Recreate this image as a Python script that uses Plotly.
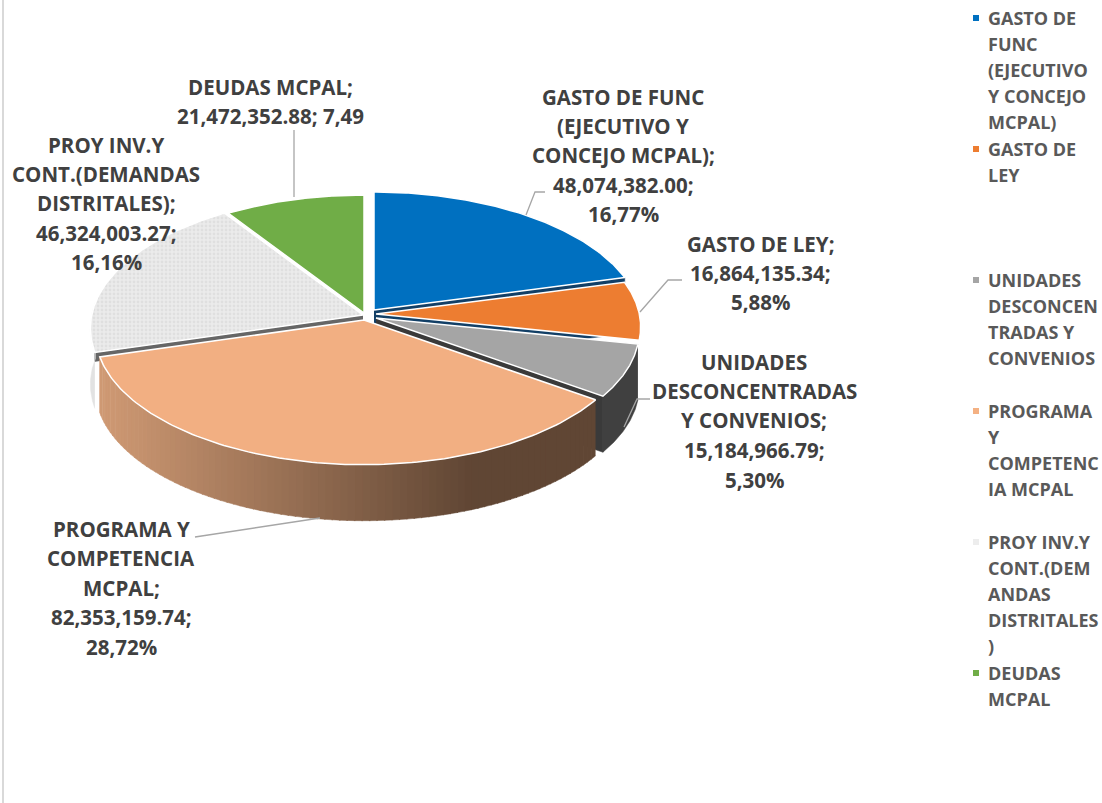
import numpy as np
import plotly.graph_objects as go

# ---------- data ----------
categories = ["GASTO DE FUNC (EJECUTIVO Y CONCEJO MCPAL)", "GASTO DE LEY",
              "UNIDADES DESCONCENTRADAS Y CONVENIOS", "PROGRAMA Y COMPETENCIA MCPAL",
              "PROY INV.Y CONT.(DEMANDAS DISTRITALES)", "DEUDAS MCPAL"]
values = [48074382.00, 16864135.34, 15184966.79, 82353159.74, 46324003.27, 21472352.88]

label_lines = [
    ["GASTO DE FUNC", "(EJECUTIVO Y", "CONCEJO MCPAL);", "48,074,382.00;", "16,77%"],
    ["GASTO DE LEY;", "16,864,135.34;", "5,88%"],
    ["UNIDADES", "DESCONCENTRADAS", "Y CONVENIOS;", "15,184,966.79;", "5,30%"],
    ["PROGRAMA Y", "COMPETENCIA", "MCPAL;", "82,353,159.74;", "28,72%"],
    ["PROY INV.Y", "CONT.(DEMANDAS", "DISTRITALES);", "46,324,003.27;", "16,16%"],
    ["DEUDAS MCPAL;", "21,472,352.88; 7,49"],
]
legend_lines = [
    ["GASTO DE", "FUNC", "(EJECUTIVO", "Y CONCEJO", "MCPAL)"],
    ["GASTO DE", "LEY"],
    ["UNIDADES", "DESCONCEN", "TRADAS Y", "CONVENIOS"],
    ["PROGRAMA", "Y", "COMPETENC", "IA MCPAL"],
    ["PROY INV.Y", "CONT.(DEM", "ANDAS", "DISTRITALES", ")"],
    ["DEUDAS", "MCPAL"],
]

# ---------- styles / layout ----------
top_colors = ["#0070C0", "#ED7D31", "#A5A5A5", "#F2AF82", "#E9E9E9", "#70AD47"]
legend_colors = ["#0070C0", "#ED7D31", "#A5A5A5", "#F4B183", "#EDEDED", "#70AD47"]
side_colors = ["#123F66", None, "#3A3A3A", None, "#666666", None]
side_at_end = [True, True, True, True, False, True]
side_depth = [56, 0, 56, 0, 9, 0]
wall_colors = [None, None, "#404040", "gradient", "#E2E2E2", None]
tips = [(374, 310), (376, 314), (376, 318), (364, 320), (363, 315), (364, 313)]
radius_scale = [1.0, 0.99, 0.985, 1.005, 1.02, 1.0]
R, RY, K, DEPTH = 266, 129.7, 0.0993, 56
label_x = [623, 760, 754, 121, 106, 270]
label_y = [[97, 126, 155, 185, 214], [244, 273, 302], [362, 391, 420, 450, 480],
           [529, 558, 588, 617, 647], [145, 174, 203, 233, 262], [87, 116]]
legend_y = [[18, 44, 70, 96, 122], [149, 175], [280, 306, 332, 358],
            [411, 437, 463, 489], [542, 568, 594, 620, 646], [673, 699]]
leaders = [([545, 535, 526], [192, 192, 215]), ([682, 668, 640], [280, 280, 312]),
           ([650, 637, 624], [399, 399, 427]), ([195, 320], [537, 518]),
           ([294, 294], [130, 197])]
FONT = "Open Sans"
LABEL_SIZE, LEGEND_SIZE = 20.5, 18
LABEL_COL, LEGEND_COL = "#404040", "#595959"

fig = go.Figure()


def poly(xs, ys, color, line=None, width=0, **kw):
    fig.add_trace(go.Scatter(
        x=list(xs), y=list(ys), mode="lines", fill="toself", fillcolor=color,
        line=dict(color=line or color, width=width if line else 0.5),
        hoverinfo="skip", showlegend=False, **kw))


def rim(i, a0, a1, n=60):
    """Projected rim of slice i between two clock angles (radians)."""
    t = np.linspace(a0, a1, n)
    X, Y = np.sin(t), np.cos(t)
    d = 1 + K * Y
    s = radius_scale[i]
    return tips[i][0] + s * R * X / d, tips[i][1] - s * RY * Y / d


shares = np.array(values) / np.sum(values)
edges = np.concatenate([[0], np.cumsum(shares)]) * 2 * np.pi


def mix(c0, c1, f):
    return "rgb(%d,%d,%d)" % tuple(round(a + (b - a) * f) for a, b in zip(c0, c1))


def draw_walls(i):
    a0, a1 = edges[i], edges[i + 1]
    # radial face exposed by the gap next to this slice
    if side_colors[i] is not None:
        ang = a1 if side_at_end[i] else a0
        rx, ry = rim(i, ang, ang, 2)
        tx, ty = tips[i]
        dd = side_depth[i]
        poly([tx, rx[0], rx[0], tx], [ty, ry[0], ry[0] + dd, ty + dd], side_colors[i])
    # outer wall, only the front half (angles between 90 and 270 degrees) shows
    lo, hi = max(a0, np.pi * 0.47), min(a1, np.pi * 1.53)
    if lo >= hi or wall_colors[i] is None:
        return
    if wall_colors[i] != "gradient":
        x, y = rim(i, lo, hi)
        poly(np.r_[x, x[::-1]], np.r_[y, y[::-1] + DEPTH], wall_colors[i])
    else:
        steps = np.linspace(lo, hi, 90)
        for s0, s1 in zip(steps[:-1], steps[1:]):
            x, y = rim(i, s0, s1 + 0.004, 4)
            f = np.clip((470 - x.mean()) / 370, 0, 1)
            poly(np.r_[x, x[::-1]], np.r_[y, y[::-1] + DEPTH],
                 mix((96, 70, 52), (208, 154, 116), f))


def draw_top(i):
    x, y = rim(i, edges[i], edges[i + 1], 120)
    kw = {}
    if i == 4:
        kw["fillpattern"] = dict(shape=".", size=4, solidity=0.4,
                                 fgcolor="#D4D4D4", bgcolor="#EBEBEB")
    poly(np.r_[tips[i][0], x, tips[i][0]], np.r_[tips[i][1], y, tips[i][1]],
         top_colors[i], line="#FFFFFF", width=1.5, **kw)


for i in [5, 4, 0, 1, 2, 3]:
    draw_walls(i)
    draw_top(i)

# leader lines
for lx, ly in leaders:
    fig.add_trace(go.Scatter(x=lx, y=ly, mode="lines", hoverinfo="skip", showlegend=False,
                             line=dict(color="#A6A6A6", width=1.3)))

# legend markers
fig.add_trace(go.Scatter(
    x=[976] * len(categories), y=[ys[0] for ys in legend_y], mode="markers",
    marker=dict(symbol="square", size=6, color=legend_colors, line=dict(width=0)),
    text=categories, hoverinfo="text", showlegend=False))

annotations = []
for lines, ys, xc in zip(label_lines, label_y, label_x):
    for t, yy in zip(lines, ys):
        annotations.append(dict(x=xc, y=yy, text="<b>%s</b>" % t, showarrow=False, xanchor="center",
                                yanchor="middle", font=dict(family=FONT, size=LABEL_SIZE, color=LABEL_COL)))
for lines, ys in zip(legend_lines, legend_y):
    for t, yy in zip(lines, ys):
        annotations.append(dict(x=986, y=yy, text="<b>%s</b>" % t, showarrow=False, xanchor="left",
                                yanchor="middle", font=dict(family=FONT, size=LEGEND_SIZE, color=LEGEND_COL)))

fig.update_layout(
    width=1102, height=803, margin=dict(l=0, r=0, t=0, b=0),
    paper_bgcolor="white", plot_bgcolor="white",
    xaxis=dict(range=[0, 1102], visible=False, fixedrange=True),
    yaxis=dict(range=[803, 0], visible=False, fixedrange=True),
    annotations=annotations,
    shapes=[dict(type="line", x0=3, x1=3, y0=0, y1=803, line=dict(color="#D9D9D9", width=2))],
)
fig.write_html("out.html", config={"displayModeBar": False},
               post_script="document.body.style.margin='0';document.body.style.overflow='hidden';")
